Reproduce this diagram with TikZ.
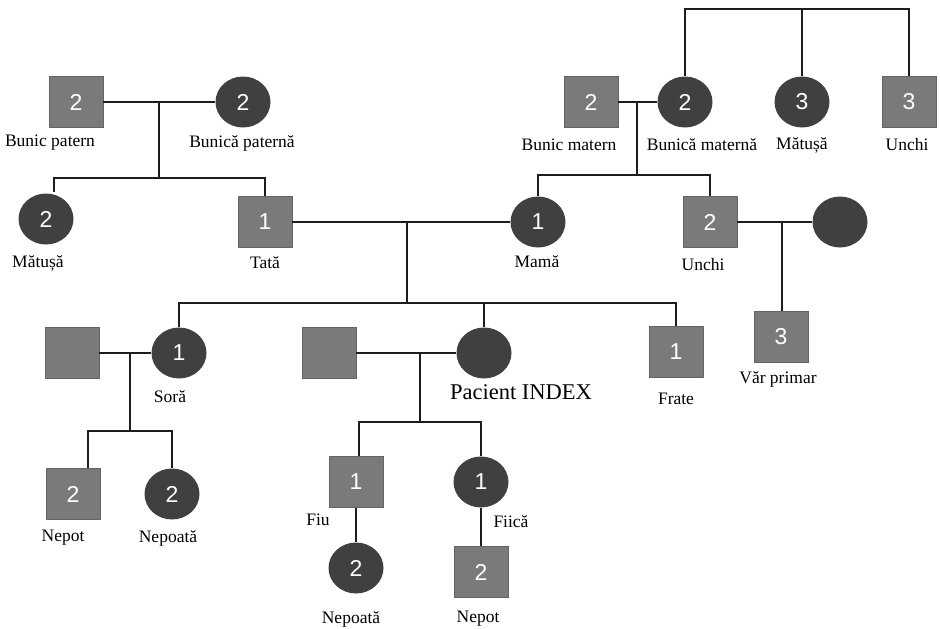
\documentclass[tikz,border=0pt]{standalone}
\usepackage{fontspec}
\setmainfont{Liberation Serif}
\newfontfamily\numfont{Liberation Sans}
\usetikzlibrary{shapes.geometric}

\definecolor{malegray}{RGB}{122,122,122}
\definecolor{maleedge}{RGB}{100,100,100}
\definecolor{femgray}{RGB}{64,64,64}
\definecolor{linegray}{RGB}{30,30,30}

\tikzset{
  male/.style={rectangle, draw=maleedge, line width=.6pt, fill=malegray, minimum width=54pt, minimum height=51pt, inner sep=0pt, text=white, font=\numfont\fontsize{23}{23}\selectfont},
  female/.style={ellipse, fill=femgray, minimum width=55pt, minimum height=51pt, inner sep=0pt, text=white, font=\numfont\fontsize{23}{23}\selectfont},
  tag/.style={font=\fontsize{17.5}{19}\selectfont, inner sep=0pt},
  link/.style={draw=linegray, line width=2pt}
}

\begin{document}
\begin{tikzpicture}[x=1pt,y=-1pt]
\useasboundingbox (0,0) rectangle (940,629);

\node[male] (bpat) at (76,102) {2};
\node[female] (bmpat) at (243,102) {2};
\node[female] (mat1) at (46,219) {2};
\node[male] (tata) at (265,222) {1};
\node[male] (bmat) at (591,102) {2};
\node[female] (bmmat) at (685,102) {2};
\node[female] (mat2) at (802,102) {3};
\node[male] (unchi2) at (909,102) {3};
\node[female] (mama) at (538,222) {1};
\node[male] (unchi) at (710,222) {2};
\node[female] (unchisp) at (840,222) {};
\node[male] (var) at (781,337) {3};
\node[male] (sorasp) at (72,353) {};
\node[female] (sora) at (179,353) {1};
\node[male] (indexsp) at (329,353) {};
\node[female] (index) at (484,353) {};
\node[male] (frate) at (676,352) {1};
\node[male] (nepot1) at (73,494) {2};
\node[female] (nepoata1) at (172,494) {2};
\node[male] (fiu) at (356,482) {1};
\node[female] (fiica) at (481,482) {1};
\node[female] (nepoata2) at (356,568) {2};
\node[male] (nepot2) at (481,572) {2};

\node[tag] (lbpat) at (50,143) {Bunic patern};
\node[tag] (lbmpat) at (242,143) {Bunică paternă};
\node[tag] (lmat1) at (38,263) {Mătușă};
\node[tag] (ltata) at (265,263) {Tată};
\node[tag] (lbmat) at (569,145) {Bunic matern};
\node[tag] (lbmmat) at (702,145) {Bunică maternă};
\node[tag] (lmat2) at (802,145) {Mătușă};
\node[tag] (lunchi2) at (907,145) {Unchi};
\node[tag] (lmama) at (537,262) {Mamă};
\node[tag] (lunchi) at (703,265) {Unchi};
\node[tag] (lvar) at (778,379) {Văr primar};
\node[tag] (lsora) at (170,397) {Soră};
\node[tag, font=\fontsize{22.5}{24}\selectfont] (lindex) at (521,392) {Pacient INDEX};
\node[tag] (lfrate) at (676,399) {Frate};
\node[tag] (lnepot1) at (63,538) {Nepot};
\node[tag] (lnepoata1) at (168,538) {Nepoată};
\node[tag] (lfiu) at (318,520) {Fiu};
\node[tag] (lfiica) at (511,522) {Fiică};
\node[tag] (lnepoata2) at (351,619) {Nepoată};
\node[tag] (lnepot2) at (478,619) {Nepot};

% paternal side
\coordinate (jpat) at (159,102);
\coordinate (spat) at (159,178);
\draw[link] (bpat.east) -- (bmpat.west);
\draw[link] (jpat) -- (spat);
\draw[link] ([xshift=8pt,yshift=1pt]mat1.north) |- (spat) -| (tata.north);

% maternal side
\coordinate (jmat) at (637,102);
\coordinate (smat) at (637,175);
\coordinate (tmat) at (802,9);
\draw[link] (bmat.east) -- (bmmat.west);
\draw[link] (jmat) -- (smat);
\draw[link] (mama.north) |- (smat) -| (unchi.north);
\draw[link] (bmmat.north) |- (tmat) -| (unchi2.north);
\draw[link] (tmat) -- (mat2.north);
\coordinate (junchi) at (782,222);
\draw[link] (unchi.east) -- (unchisp.west);
\draw[link] (junchi) -- (var.north -| junchi);

% parents and siblings
\coordinate (jpar) at (407,222);
\coordinate (spar) at (407,303);
\draw[link] (tata.east) -- (mama.west);
\draw[link] (jpar) -- (spar);
\draw[link] (sora.north) |- (spar) -| (frate.north);
\draw[link] (spar) -| (index.north);

\coordinate (jsora) at (130,353);
\coordinate (ssora) at (130,431);
\draw[link] (sorasp.east) -- (sora.west);
\draw[link] (jsora) -- (ssora);
\draw[link] ([xshift=15pt]nepot1.north) |- (ssora) -| (nepoata1.north);

\coordinate (jidx) at (420,353);
\coordinate (sidx) at (420,422);
\draw[link] (indexsp.east) -- (index.west);
\draw[link] (jidx) -- (sidx);
\draw[link] ([xshift=3pt]fiu.north) |- (sidx) -| (fiica.north);
\draw[link] (fiu) -- (nepoata2);
\draw[link] (fiica) -- (nepot2);
\end{tikzpicture}
\end{document}
